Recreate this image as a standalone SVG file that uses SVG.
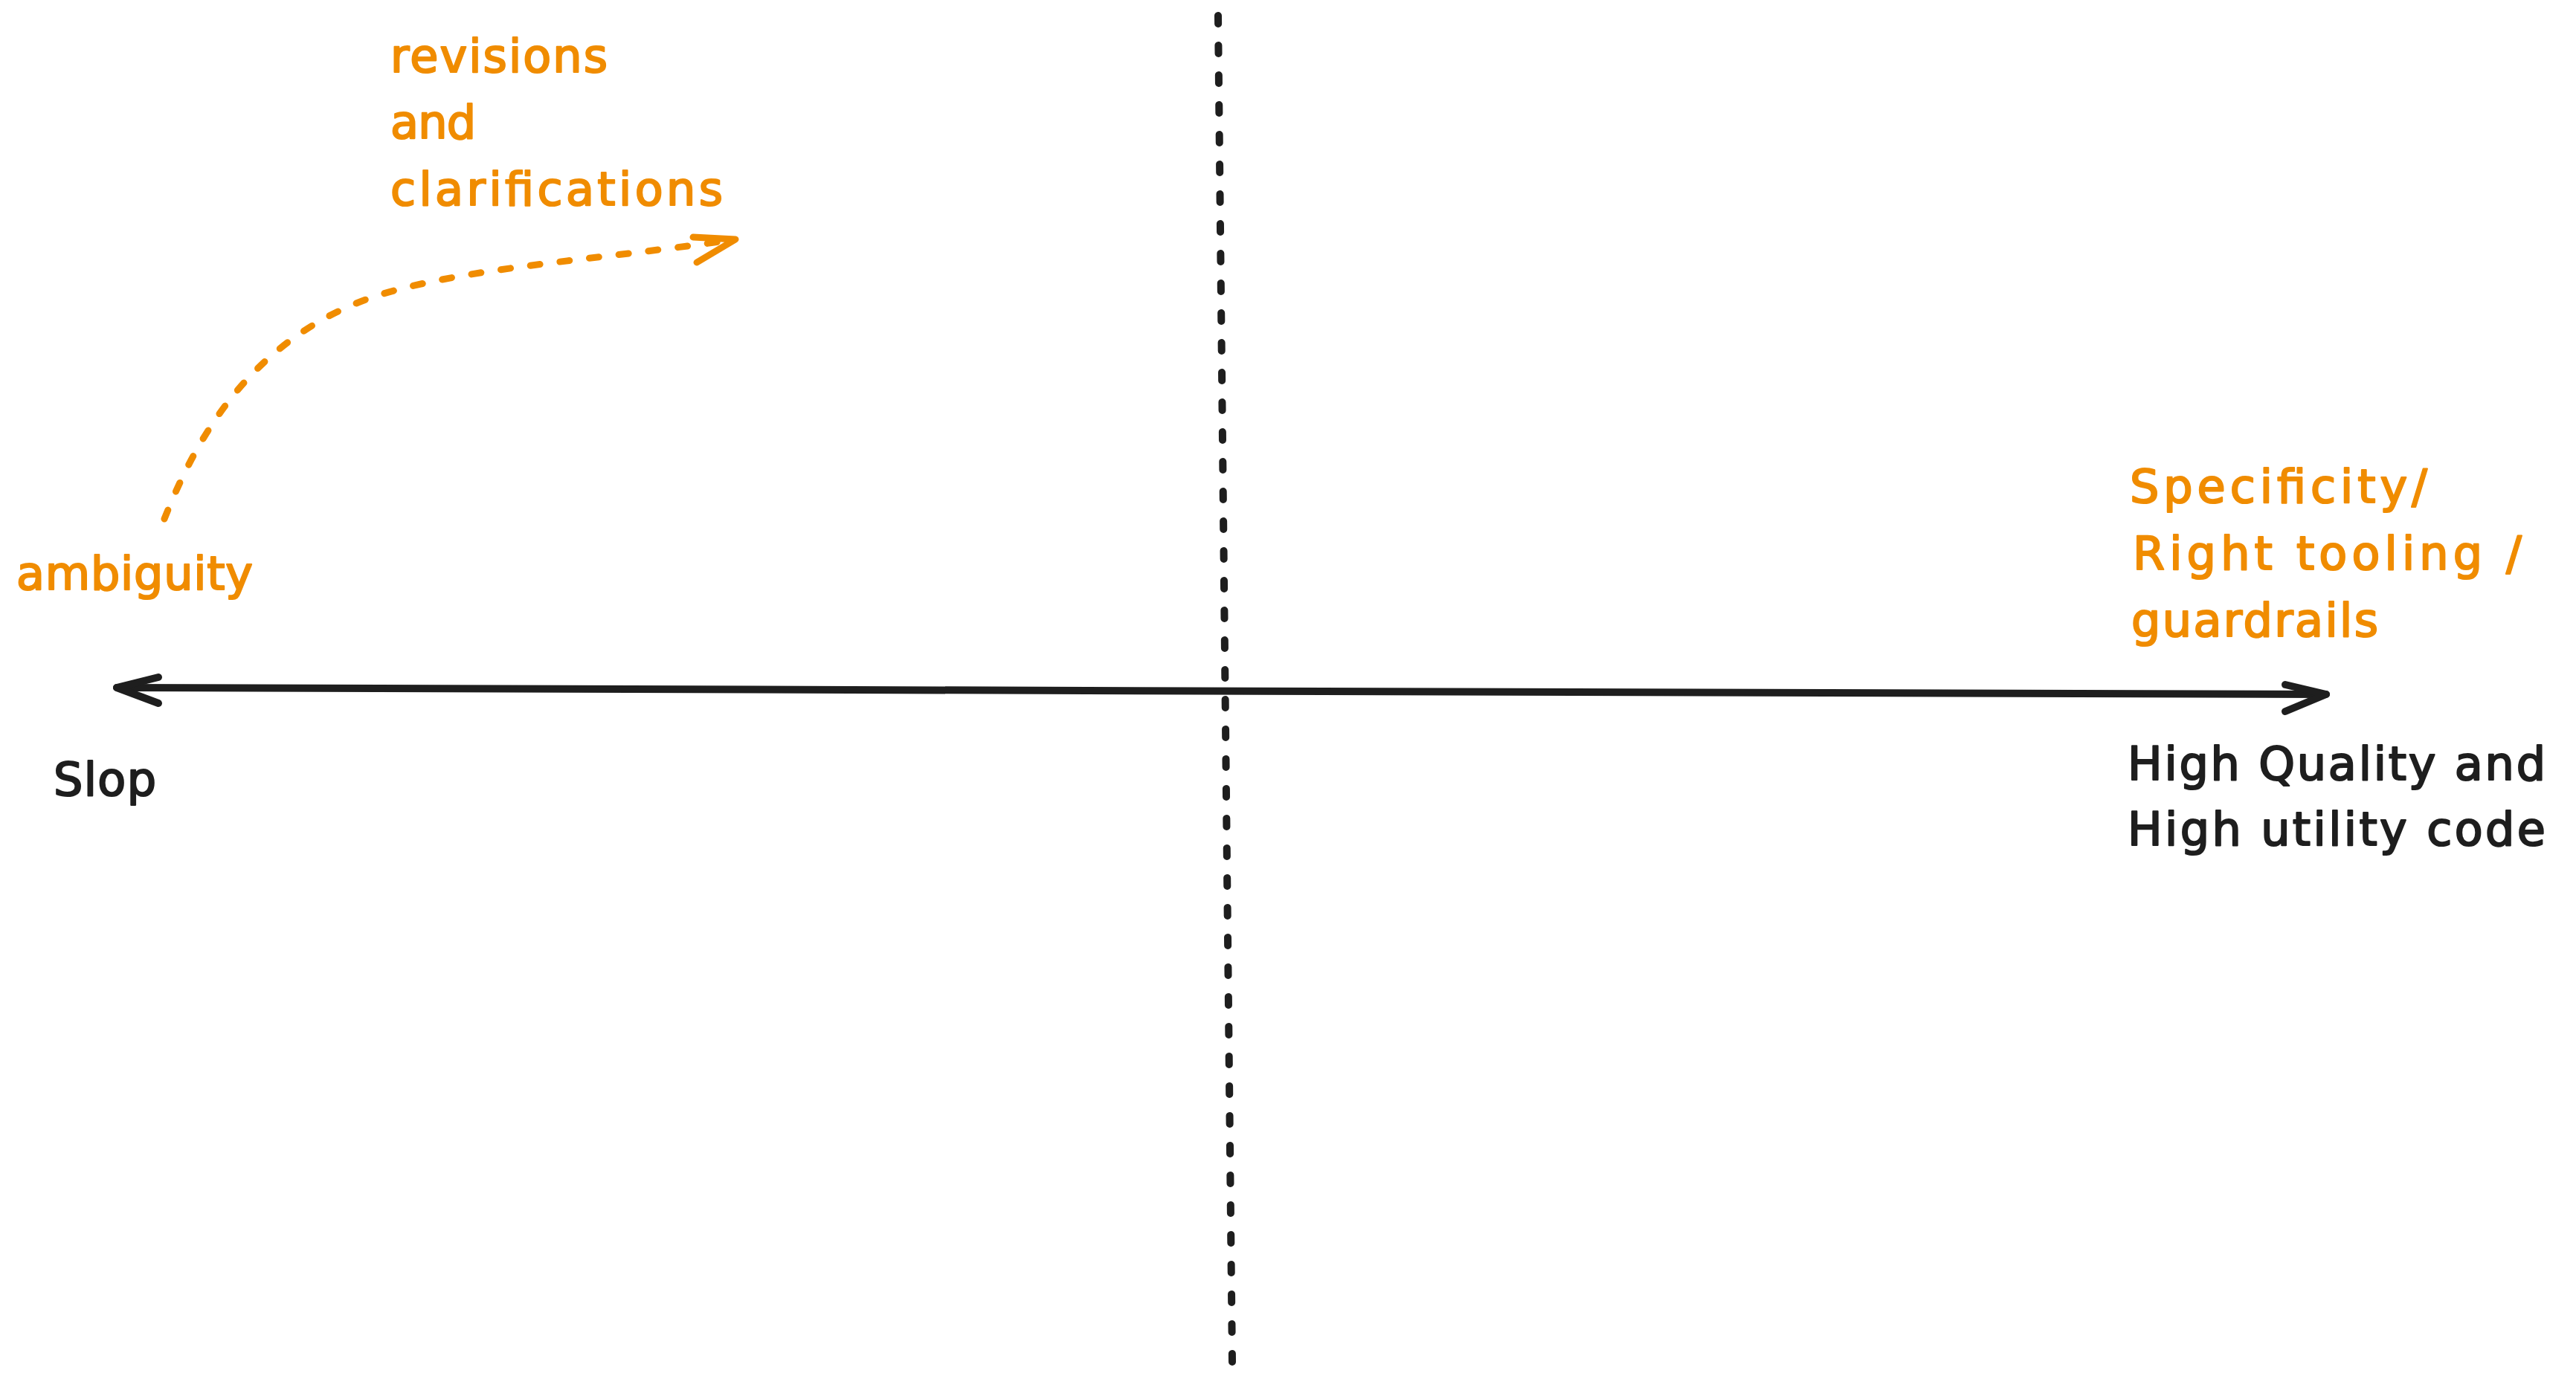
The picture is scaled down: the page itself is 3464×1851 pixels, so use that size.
<svg xmlns="http://www.w3.org/2000/svg" width="3464" height="1851" viewBox="0 0 3464 1851">
  <style>
    .bg { fill: #ffffff; }
    .t { font-family: "DejaVu Sans", "Liberation Sans", sans-serif; font-size: 62px; stroke-width: 2.2; stroke-linejoin: round; }
    .orange { fill: #f08c00; stroke: #f08c00; }
    .dark { fill: #1e1e1e; stroke: #1e1e1e; }
    .axis { fill: none; stroke: #1e1e1e; stroke-width: 10; stroke-linecap: round; stroke-linejoin: round; }
    .divider { fill: none; stroke: #1e1e1e; stroke-width: 10; stroke-linecap: round; stroke-dasharray: 11 29; }
    .curve { fill: none; stroke: #f08c00; stroke-width: 9; stroke-linecap: round; stroke-dasharray: 13 27; }
    .ohead { fill: none; stroke: #f08c00; stroke-width: 9; stroke-linecap: round; stroke-linejoin: round; }
  </style>
  <rect class="bg" x="0" y="0" width="3464" height="1851"/>

  <g id="connectors">
    <path id="divider" class="divider" d="M1638,21 L1657,1832"/>
    <path id="axis-line" class="axis" d="M157,925 L3128,934"/>
    <polyline id="axis-head-left" class="axis" points="213,911 157,925 213,946"/>
    <polyline id="axis-head-right" class="axis" points="3073,921 3128,934 3073,957"/>
    <path id="revision-curve" class="curve" d="M221,698 C260,600 330,460 500,400 C620,360 800,350 989,322"/>
    <polyline id="revision-head" class="ohead" points="932,319 989,322 937,353"/>
  </g>

  <g id="label-revisions">
    <text class="t orange" x="525" y="97" textLength="292" lengthAdjust="spacing">revisions</text>
    <text class="t orange" x="525" y="186" textLength="115" lengthAdjust="spacing">and</text>
    <text class="t orange" x="525" y="276" textLength="447" lengthAdjust="spacing">clarifications</text>
  </g>

  <g id="label-ambiguity">
    <text class="t orange" x="22" y="793" textLength="318" lengthAdjust="spacing">ambiguity</text>
  </g>

  <g id="label-specificity">
    <text class="t orange" x="2864" y="676" textLength="400" lengthAdjust="spacing">Specificity/</text>
    <text class="t orange" x="2868" y="766" textLength="523" lengthAdjust="spacing">Right tooling /</text>
    <text class="t orange" x="2866" y="856" textLength="332" lengthAdjust="spacing">guardrails</text>
  </g>

  <g id="label-slop">
    <text class="t dark" x="72" y="1070" textLength="138" lengthAdjust="spacing">Slop</text>
  </g>

  <g id="label-high-quality">
    <text class="t dark" x="2861" y="1049" textLength="562" lengthAdjust="spacing">High Quality and</text>
    <text class="t dark" x="2861" y="1137" textLength="562" lengthAdjust="spacing">High utility code</text>
  </g>
</svg>
